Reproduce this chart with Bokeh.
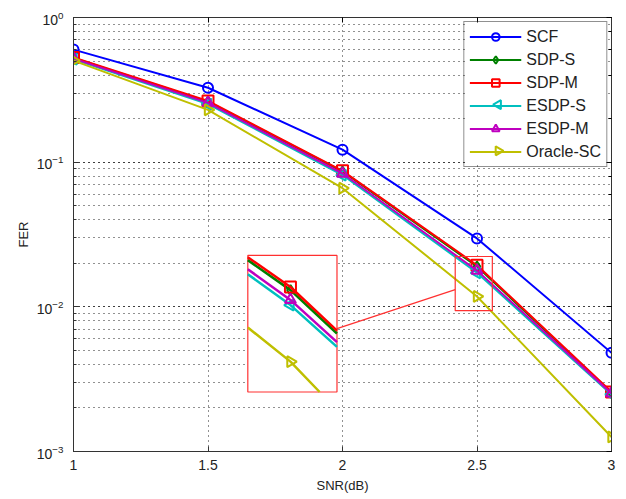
import numpy as np
from bokeh.plotting import figure
from bokeh.models import (Range1d, LogAxis, LinearAxis, Legend, LegendItem, FixedTicker)
from bokeh.embed import file_html
from bokeh.resources import INLINE

snr = [1.0, 1.5, 2.0, 2.5, 3.0]
scf = [0.600, 0.327, 0.122, 0.0297, 0.00481]
sdp_s = [0.525, 0.262, 0.0862, 0.0190, 0.00255]
sdp_m = [0.530, 0.265, 0.0871, 0.0194, 0.00258]
esdp_s = [0.515, 0.252, 0.0815, 0.0172, 0.00248]
esdp_m = [0.520, 0.257, 0.0835, 0.0178, 0.00252]
oracle = [0.503, 0.230, 0.0661, 0.0118, 0.00126]

names = ["SCF", "SDP-S", "SDP-M", "ESDP-S", "ESDP-M", "Oracle-SC"]
series = [scf, sdp_s, sdp_m, esdp_s, esdp_m, oracle]
in_inset = [False, True, True, True, True, True]
colors = ["#0000FF", "#008000", "#FF0000", "#00BFBF", "#BF00BF", "#BFBF00"]
markers = ["circle", "diamond", "square", "triangle", "triangle", "triangle"]
angles = [0.0, 0.0, 0.0, 1.5708, 0.0, -1.5708]
msizes = [10, 10, 11, 11, 11, 11]

# drawn zoom box, magnified region, inset box (data coordinates)
box_x = (2.419, 2.557)
box_y = (0.00941, 0.02228)
src_x = (2.434, 2.572)
src_y = (0.00964, 0.02393)
ins_x = (1.648, 1.9795)
ins_y = (0.002578, 0.02265)
link = ((1.9795, 10 ** -2.151), (2.419, 10 ** -1.881))

FONT = "Liberation Sans"

# frame geometry (pixels) used to place the legend backing and rotated keys
FR_L, FR_R, FR_T, FR_B = 73, 610, 20, 453
LEG_BOX = (465, 605, 25, 167)   # left, right, top, bottom in pixels
LEG_KEY_X = 497
LEG_KEY_Y0, LEG_KEY_DY = 38.0, 23.0

def px_to_data(px, py):
    x = 1 + (px - FR_L) * 2.0 / (FR_R - FR_L)
    y = 10 ** (-(py - FR_T) * 3.0 / (FR_B - FR_T))
    return x, y

p = figure(width=619, height=495, x_range=Range1d(1, 3), y_range=Range1d(1e-3, 1),
           y_axis_type="log", output_backend="svg", toolbar_location=None,
           min_border_left=73, min_border_right=8, min_border_top=17, min_border_bottom=36)
p.background_fill_color = "white"
p.border_fill_color = "white"
p.outline_line_color = "#333333"
p.outline_line_width = 1

# grids
p.xgrid.ticker = FixedTicker(ticks=snr)
p.xgrid.grid_line_color = "#222222"
p.xgrid.grid_line_dash = "1 4"
p.ygrid.grid_line_color = "#222222"
p.ygrid.grid_line_dash = "1 4"
p.ygrid.minor_grid_line_color = "#222222"
p.ygrid.minor_grid_line_dash = "1 4"

# axes
p.xaxis.ticker = FixedTicker(ticks=snr)
p.xaxis.major_label_overrides = {1.0: "1", 1.5: "1.5", 2.0: "2", 2.5: "2.5", 3.0: "3"}
p.xaxis.axis_label = "SNR(dB)"
p.yaxis.axis_label = "FER"
for ax in [p.xaxis[0], p.yaxis[0]]:
    ax.major_tick_in = 5
    ax.major_tick_out = 0
    ax.minor_tick_in = 3
    ax.minor_tick_out = 0
    ax.axis_line_color = "#333333"
    ax.major_tick_line_color = "#333333"
    ax.minor_tick_line_color = "#333333"
    ax.major_label_text_font = FONT
    ax.major_label_text_font_size = "14px"
    ax.major_label_text_color = "#222222"
    ax.axis_label_text_font = FONT
    ax.axis_label_text_font_size = "13px"
    ax.axis_label_text_font_style = "normal"
    ax.axis_label_text_color = "#222222"
p.xaxis.major_label_standoff = 8
p.xaxis.axis_label_standoff = 5
p.yaxis.major_label_standoff = 10
p.yaxis.axis_label_standoff = 3

ra = LogAxis(major_label_text_color=None, major_label_text_font_size="1px",
             major_tick_in=5, major_tick_out=0,
             minor_tick_in=3, minor_tick_out=0, axis_line_color="#333333",
             major_label_standoff=0)
p.add_layout(ra, "right")
ta = LinearAxis(ticker=FixedTicker(ticks=snr), major_label_text_color=None,
                major_label_text_font_size="1px",
                major_tick_in=5, major_tick_out=0, minor_tick_in=0, minor_tick_out=0,
                axis_line_color="#333333", major_label_standoff=0)
p.add_layout(ta, "above")

# white backing behind the (transparent) legend, hides the grid there
bl, bt = px_to_data(LEG_BOX[0], LEG_BOX[2])
br, bb = px_to_data(LEG_BOX[1], LEG_BOX[3])
p.quad(left=[bl], right=[br], top=[bt], bottom=[bb], fill_color="white", line_color=None)

# main curves
items = []
overlay_keys = []
for k, (name, ys, c, m, a, s) in enumerate(zip(names, series, colors, markers, angles, msizes)):
    l = p.line(snr, ys, line_color=c, line_width=2)
    sc = p.scatter(snr, ys, marker=m, angle=a, size=s, line_color=c,
                   line_width=2, fill_color=None)
    if a != 0.0:
        items.append(LegendItem(label=name, renderers=[l]))
        overlay_keys.append((k, m, a, c))
    else:
        items.append(LegendItem(label=name, renderers=[l, sc]))

# rotated triangle keys (legend cannot rotate markers), under the transparent legend
for k, m, a, c in overlay_keys:
    kx, ky = px_to_data(LEG_KEY_X, LEG_KEY_Y0 + k * LEG_KEY_DY)
    p.scatter([kx], [ky], marker=m, angle=a, size=9, line_color=c, line_width=2,
              fill_color=None)

# inset
def clip_seg(x0, y0, x1, y1, xmin, xmax, ymin, ymax):
    dx = x1 - x0
    dy = y1 - y0
    t0, t1 = 0.0, 1.0
    for pp, qq in ((-dx, x0 - xmin), (dx, xmax - x0), (-dy, y0 - ymin), (dy, ymax - y0)):
        if pp == 0:
            if qq < 0:
                return None
        else:
            t = qq / pp
            if pp < 0:
                t0 = max(t0, t)
            else:
                t1 = min(t1, t)
    if t0 > t1:
        return None
    return (x0 + t0 * dx, y0 + t0 * dy, x0 + t1 * dx, y0 + t1 * dy)

lsx0, lsx1 = src_x
lsy0, lsy1 = float(np.log10(src_y[0])), float(np.log10(src_y[1]))
lix0, lix1 = ins_x
liy0, liy1 = float(np.log10(ins_y[0])), float(np.log10(ins_y[1]))

def map_pt(x, ly):
    xm = lix0 + (x - lsx0) * (lix1 - lix0) / (lsx1 - lsx0)
    lym = liy0 + (ly - lsy0) * (liy1 - liy0) / (lsy1 - lsy0)
    return float(xm), float(10 ** lym)

p.quad(left=[ins_x[0]], right=[ins_x[1]], bottom=[ins_y[0]], top=[ins_y[1]],
       fill_color="white", line_color="#FF3030", line_width=1.2)
p.quad(left=[box_x[0]], right=[box_x[1]], bottom=[box_y[0]], top=[box_y[1]],
       fill_color=None, line_color="#FF3030", line_width=1.2)
p.segment(x0=[link[0][0]], y0=[link[0][1]], x1=[link[1][0]], y1=[link[1][1]],
          line_color="#FF3030", line_width=1.2)

for name, ys, c, m, a, s, show in zip(names, series, colors, markers, angles, msizes, in_inset):
    if not show:
        continue
    ly = [float(v) for v in np.log10(ys)]
    px, py = [], []
    for i in range(len(snr) - 1):
        r = clip_seg(snr[i], ly[i], snr[i + 1], ly[i + 1], lsx0, lsx1, lsy0, lsy1)
        if r is None:
            continue
        a0 = map_pt(r[0], r[1])
        a1 = map_pt(r[2], r[3])
        px += [a0[0], a1[0]]
        py += [a0[1], a1[1]]
    if px:
        p.line(px, py, line_color=c, line_width=2.5)
    mx, my = [], []
    for xv, lv in zip(snr, ly):
        if lsx0 <= xv <= lsx1 and lsy0 <= lv <= lsy1:
            q = map_pt(xv, lv)
            mx.append(q[0])
            my.append(q[1])
    if mx:
        p.scatter(mx, my, marker=m, angle=a, size=s, line_color=c, line_width=2,
                  fill_color=None)

legend = Legend(items=items, location="top_right")
legend.border_line_color = "#222222"
legend.border_line_width = 1
legend.background_fill_color = "white"
legend.background_fill_alpha = 0
legend.label_text_font = FONT
legend.label_text_font_size = "16px"
legend.label_text_color = "#222222"
legend.glyph_width = 52
legend.glyph_height = 19
legend.label_height = 19
legend.spacing = 4
legend.padding = 5
legend.margin = 4
legend.label_standoff = 5
p.add_layout(legend)

open("out.html", "w").write(file_html(p, INLINE))
